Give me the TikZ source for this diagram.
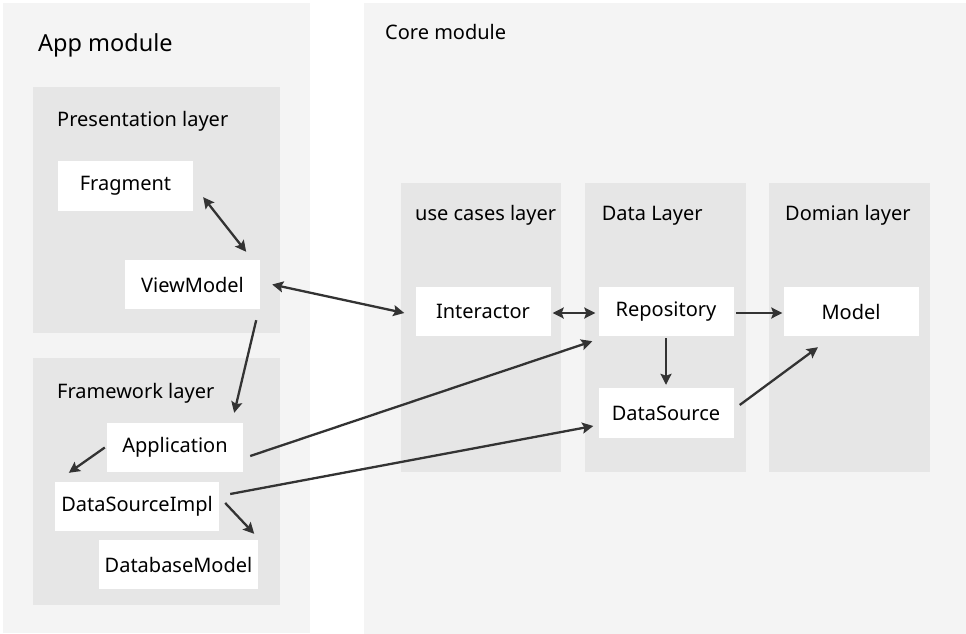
\documentclass[tikz,border=0pt]{standalone}
\usepackage{fontspec}
\setmainfont{Noto Sans}
\usetikzlibrary{calc,arrows.meta}

\definecolor{modulebg}{HTML}{F4F4F4}
\definecolor{layerbg}{HTML}{E6E6E6}
\definecolor{arrowcol}{HTML}{333333}

\tikzset{
  box/.style={fill=white, draw=none, minimum width=135pt, minimum height=49pt,
    inner sep=0pt, font=\fontsize{20}{23}\selectfont, text=black},
  title/.style={anchor=base west, inner sep=0pt, font=\fontsize{20}{23}\selectfont, text=black},
  bigtitle/.style={anchor=base west, inner sep=0pt, font=\fontsize{23.5}{26}\selectfont, text=black},
  tip/.style={Stealth[length=11pt,width=11pt,inset=2pt]},
  link/.style={draw=arrowcol, line width=2.3pt, -{Stealth[length=11pt,width=11pt,inset=2pt]}},
  duallink/.style={draw=arrowcol, line width=2.3pt, {Stealth[length=11pt,width=11pt,inset=2pt]}-{Stealth[length=11pt,width=11pt,inset=2pt]}},
}

\begin{document}
\begin{tikzpicture}[x=1pt,y=-1pt]
  \useasboundingbox (0,0) rectangle (966,634);
  \fill[white] (0,0) rectangle (966,634);

  % module panels
  \fill[modulebg] (3,3) rectangle (310,633);
  \fill[modulebg] (364,3) rectangle (966,634);

  % layer panels
  \fill[layerbg] (33,87) rectangle (280,333);
  \fill[layerbg] (33,358) rectangle (280,605);
  \fill[layerbg] (400.5,183) rectangle (561,472);
  \fill[layerbg] (585,183) rectangle (745.5,472);
  \fill[layerbg] (769,183) rectangle (930,472);

  % titles
  \node[bigtitle] (tapp) at (38,51.7) {App module};
  \node[title] (tcore) at (385,39.3) {Core module};
  \node[title] (tpres) at (57,126) {Presentation layer};
  \node[title] (tfw) at (57,398.3) {Framework layer};
  \node[title] (tuse) at (415,220) {use cases layer};
  \node[title] (tdata) at (601.6,220.5) {Data Layer};
  \node[title] (tdom) at (785,220.5) {Domian layer};

  % components
  \node[box, minimum height=50pt] (frag) at (125.5,186) {Fragment};
  \node[box] (vm) at (192.5,284.5) {ViewModel};
  \node[box, minimum width=136pt] (app) at (175,447.5) {Application};
  \node[box, minimum width=164pt] (dsi) at (137,506.5) {DataSourceImpl};
  \node[box, minimum width=159pt] (db) at (178.5,564.5) {DatabaseModel};
  \node[box] (inter) at (483,311.5) {Interactor};
  \node[box] (repo) at (666,311.5) {Repository};
  \node[box] (model) at (851,311.5) {Model};
  \node[box, minimum height=50pt] (ds) at (666,413) {DataSource};

  % connectors
  \draw[duallink] ($(frag.south east)+(10,-14)$) -- ($(vm.north east)+(-14,-8)$);
  \draw[duallink] ($(vm.east)+(12,0)$) -- ($(inter.west)+(-11,1.5)$);
  \draw[link] ($(vm.south east)+(-4,11)$) -- ($(app.north east)+(-9,-10)$);
  \draw[link] ($(app.west)+(-2,0)$) -- ($(dsi.north west)+(14,-9)$);
  \draw[link] ($(dsi.east)+(6,-3.5)$) -- ($(db.north east)+(-4,-6)$);
  \draw[link] ($(app.east)+(7,8.5)$) -- ($(repo.south west)+(-6,5)$);
  \draw[link] ($(dsi.east)+(11,-12.5)$) -- ($(ds.west)+(-5,13)$);
  \draw[duallink] ($(inter.east)+(2,1.5)$) -- ($(repo.west)+(-3,1.5)$);
  \draw[link] ($(repo.east)+(2.5,1.5)$) -- ($(model.west)+(-1,1.5)$);
  \draw[link] ($(repo.south)+(0,2)$) -- ($(ds.north)+(0,-3)$);
  \draw[link] ($(ds.east)+(6,-8)$) -- ($(model.south)+(-33,11)$);
\end{tikzpicture}
\end{document}
